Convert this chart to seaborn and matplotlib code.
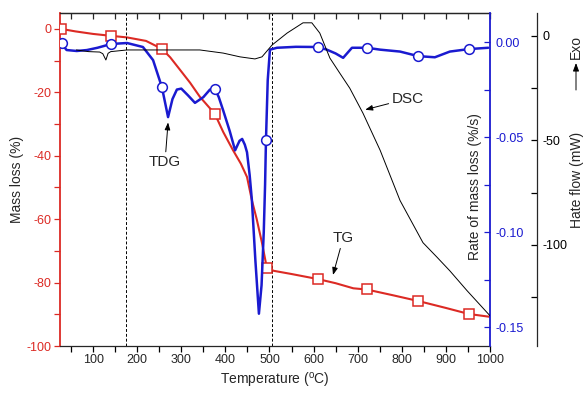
import matplotlib
matplotlib.use("Agg")
import matplotlib.pyplot as plt
import seaborn as sns
from matplotlib.ticker import MultipleLocator

# TG curve, mass loss (%)
tg_temp = [27, 60, 100, 141, 177, 220, 256, 275, 297, 320, 342, 376, 395, 417,
           435, 449, 460, 471, 483, 494, 510, 550, 610, 650, 690, 721, 780, 837,
           900, 952, 1000]
tg_loss = [0, -0.8, -1.6, -2.2, -2.7, -3.8, -6.3, -9.0, -12.9, -17.0, -21.4,
           -26.8, -32.5, -38.2, -42.5, -46.7, -54.0, -60.0, -67.5, -75.4, -76.3,
           -77.3, -78.9, -80.2, -81.8, -82.2, -84.0, -85.8, -88.0, -89.9, -90.8]
tg_mark_temp = [27, 141, 256, 376, 494, 610, 721, 837, 952]
tg_mark_loss = [0, -2.2, -6.3, -26.8, -75.4, -78.9, -82.0, -85.8, -89.9]

# DTG curve, rate of mass loss (%/s)
dtg_temp = [27, 40, 63, 86, 110, 141, 177, 213, 236, 256, 270, 280, 290, 300,
            315, 331, 350, 365, 376, 385, 395, 410, 422, 432, 438, 444, 449, 455,
            460, 468, 476, 482, 487, 490, 492, 496, 501, 517, 560, 610, 630, 650,
            667, 687, 721, 751, 796, 837, 875, 909, 952, 996]
dtg_rate = [-0.0005, -0.0042, -0.0047, -0.0042, -0.003, -0.001, -0.0005, -0.0026,
            -0.0095, -0.0237, -0.0395, -0.030, -0.025, -0.0245, -0.028, -0.032,
            -0.029, -0.025, -0.0245, -0.029, -0.036, -0.047, -0.057, -0.052,
            -0.051, -0.054, -0.058, -0.070, -0.083, -0.115, -0.143, -0.128,
            -0.100, -0.075, -0.0516, -0.020, -0.004, -0.003, -0.0025, -0.0026,
            -0.004, -0.006, -0.0083, -0.003, -0.003, -0.004, -0.005, -0.0074,
            -0.008, -0.005, -0.0037, -0.003]
dtg_mark_temp = [29, 141, 256, 376, 492, 610, 721, 837, 952]
dtg_mark_rate = [-0.0005, -0.001, -0.0237, -0.0245, -0.0516, -0.0026, -0.003,
                 -0.0074, -0.0037]

# DSC curve, heat flow (mW)
dsc_temp = [62, 90, 115, 122, 129, 134, 140, 177, 250, 297, 342, 395, 433, 467,
            483, 506, 540, 576, 596, 614, 637, 660, 682, 712, 751, 796, 848, 880,
            909, 948, 1000]
dsc_flow = [-6.7, -7.5, -7.7, -8.5, -11.5, -8.3, -7.5, -6.7, -6.7, -6.7, -6.7,
            -8.2, -10.0, -11.0, -10.0, -4.3, 1.4, 6.3, 6.3, 1.4, -10.6, -18.0,
            -25.0, -37.0, -54.8, -78.8, -99.0, -106.0, -112.5, -122.0, -134.0]

stage_lines = [175, 505]

RED = "#dc2a24"
BLUE = "#1a1ad0"

sns.set_theme(style="ticks")
plt.rcParams["font.family"] = ["Liberation Sans", "DejaVu Sans"]
plt.rcParams["axes.unicode_minus"] = False
plt.rcParams["mathtext.default"] = "regular"

fig = plt.figure(figsize=(5.85, 3.94), dpi=100)
ax = fig.add_axes([0.1026, 0.1218, 0.7350, 0.8452])
ax2 = ax.twinx()
ax3 = ax.twinx()

# mass loss axis
sns.lineplot(x=tg_temp, y=tg_loss, ax=ax, color=RED, lw=1.5)
ax.plot(tg_mark_temp, tg_mark_loss, ls="none", marker="s", ms=6.5,
        mfc="white", mec=RED, mew=1.1, zorder=5)
for t in stage_lines:
    ax.axvline(t, color="black", ls=(0, (3, 2)), lw=0.7)
ax.set_xlim(25, 1000)
ax.set_ylim(-100, 5)
ax.xaxis.set_major_locator(MultipleLocator(100))
ax.xaxis.set_minor_locator(MultipleLocator(50))
ax.yaxis.set_major_locator(MultipleLocator(20))
ax.yaxis.set_minor_locator(MultipleLocator(10))
ax.set_xlabel("Temperature ($^o$C)", fontsize=10, labelpad=3)
ax.set_ylabel("Mass loss (%)", fontsize=10, labelpad=2)
ax.tick_params(axis="x", which="both", direction="out", labelsize=9,
               length=4, width=0.9, color="black", pad=2)
ax.tick_params(axis="y", which="both", direction="out", labelsize=9,
               length=4, width=0.9, colors=RED, pad=2)
ax.spines["left"].set_color(RED)
ax.spines["left"].set_linewidth(1.3)
ax.spines["right"].set_visible(False)
for s in ["top", "bottom"]:
    ax.spines[s].set_linewidth(0.9)
top = ax.secondary_xaxis("top")
top.xaxis.set_major_locator(MultipleLocator(100))
top.xaxis.set_minor_locator(MultipleLocator(50))
top.tick_params(which="both", direction="in", length=4, width=0.9,
                labeltop=False)
top.spines["top"].set_linewidth(0.9)

# rate of mass loss axis
sns.lineplot(x=dtg_temp, y=dtg_rate, ax=ax2, color=BLUE, lw=1.8)
ax2.plot(dtg_mark_temp, dtg_mark_rate, ls="none", marker="o", ms=7,
         mfc="white", mec=BLUE, mew=1.1, zorder=5)
ax2.set_ylim(-0.16, 0.0153)
ax2.yaxis.set_major_locator(MultipleLocator(0.05))
ax2.yaxis.set_minor_locator(MultipleLocator(0.025))
ax2.yaxis.set_major_formatter(plt.FormatStrFormatter("%.2f"))
ax2.tick_params(axis="y", which="both", direction="in", length=4, width=0.9,
                colors=BLUE, labelsize=9, pad=4)
ax2.set_ylabel("Rate of mass loss (%/s)", fontsize=10)
ax2.yaxis.set_label_coords(0.95, 0.48)
ax2.spines["right"].set_color(BLUE)
ax2.spines["right"].set_linewidth(1.3)
for s in ["left", "top", "bottom"]:
    ax2.spines[s].set_visible(False)

# heat flow axis
sns.lineplot(x=dsc_temp, y=dsc_flow, ax=ax3, color="black", lw=0.7)
ax3.spines["right"].set_position(("axes", 1.109))
ax3.set_ylim(-148.5, 11)
ax3.yaxis.set_major_locator(MultipleLocator(50))
ax3.yaxis.set_minor_locator(MultipleLocator(25))
ax3.tick_params(axis="y", which="both", direction="in", length=4, width=0.9,
                colors="black", labelsize=9, pad=4)
ax3.set_ylabel("Hate flow (mW)", fontsize=10)
ax3.yaxis.set_label_coords(1.185, 0.5)
for s in ["left", "top", "bottom"]:
    ax3.spines[s].set_visible(False)
ax3.spines["right"].set_linewidth(0.9)

# annotations
arrow = dict(arrowstyle="-|>,head_length=0.4,head_width=0.15", color="black",
             lw=0.7, shrinkA=0, shrinkB=0)
ax.annotate("TDG", xy=(270, -29.5), xytext=(263, -42), fontsize=11,
            ha="center", va="center", arrowprops=arrow)
ax.annotate("TG", xy=(644, -77.6), xytext=(667, -66), fontsize=11,
            ha="center", va="center", arrowprops=arrow)
ax.annotate("DSC", xy=(717, -25.5), xytext=(814, -22), fontsize=11,
            ha="center", va="center", arrowprops=arrow)

fig.text(576 / 585, 1 - 47 / 394, "Exo", rotation=90, fontsize=10,
         ha="center", va="center")
ax.annotate("", xy=(576 / 585, 1 - 63 / 394), xytext=(576 / 585, 1 - 90 / 394),
            xycoords="figure fraction", textcoords="figure fraction",
            arrowprops=arrow)

fig.savefig("out.png", dpi=100)
